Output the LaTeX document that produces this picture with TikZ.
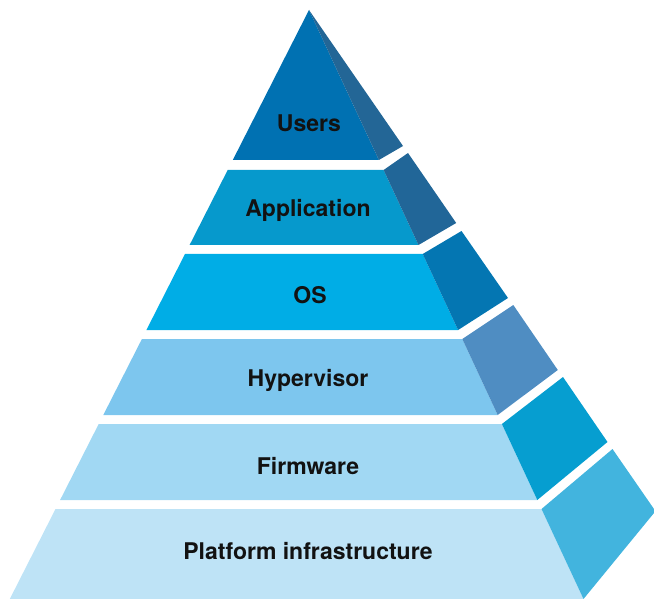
\documentclass[tikz,border=0pt]{standalone}
\usepackage{fontspec}
\setmainfont{TeX Gyre Heros}
\definecolor{usersF}{HTML}{0071B2}
\definecolor{usersS}{HTML}{236696}
\definecolor{appF}{HTML}{0699CC}
\definecolor{appS}{HTML}{216698}
\definecolor{osF}{HTML}{00ADE6}
\definecolor{osS}{HTML}{0476B2}
\definecolor{hypF}{HTML}{7DC6EE}
\definecolor{hypS}{HTML}{4F8DC2}
\definecolor{firmF}{HTML}{A1D8F3}
\definecolor{firmS}{HTML}{069ED0}
\definecolor{platF}{HTML}{BEE3F6}
\definecolor{platS}{HTML}{42B4DE}
\begin{document}
\begin{tikzpicture}[x=1pt,y=-1pt,
  lbl/.style={font=\fontsize{23}{25}\selectfont\bfseries, text=black!93, inner sep=0pt}]
\useasboundingbox (0,0) rectangle (654,599);
\clip (0,0) rectangle (654,599);
% Users
\fill[usersF] (309,10) -- (378.9,160) -- (232.8,160) -- cycle;
\fill[usersS] (309,10) -- (403,146) -- (378.9,160) -- cycle;
% Application
\fill[appF] (227.7,170) -- (383.6,170) -- (418.5,245) -- (189.6,245) -- cycle;
\fill[appS] (383.6,170) -- (408,153) -- (456.2,223) -- (418.5,245) -- cycle;
% OS
\fill[osF] (185.0,254) -- (422.7,254) -- (458.1,330) -- (146.4,330) -- cycle;
\fill[osS] (422.7,254) -- (461.5,231) -- (508,298) -- (458.1,330) -- cycle;
% Hypervisor
\fill[hypF] (141.9,339) -- (462.3,339) -- (497.7,415) -- (103.3,415) -- cycle;
\fill[hypS] (462.3,339) -- (513.3,305) -- (557.8,370) -- (497.7,415) -- cycle;
% Firmware
\fill[firmF] (98.7,424) -- (501.9,424) -- (537.3,500) -- (60.1,500) -- cycle;
\fill[firmS] (501.9,424) -- (563,377) -- (607.5,442) -- (537.3,500) -- cycle;
% Platform infrastructure
\fill[platF] (55.5,509) -- (541.5,509) -- (583.5,599) -- (9.8,599) -- cycle;
\fill[platS] (541.5,509) -- (612.5,449) -- (654,509) -- (654,513) -- (583.5,599) -- cycle;
% Labels
\node[lbl] (users) at (309,123) {Users};
\node[lbl] (app) at (308,210) {Application};
\node[lbl] (os) at (310,295) {OS};
\node[lbl] (hyp) at (308,380) {Hypervisor};
\node[lbl] (firm) at (308,466) {Firmware};
\node[lbl] (plat) at (308,551) {Platform infrastructure};
\end{tikzpicture}
\end{document}
